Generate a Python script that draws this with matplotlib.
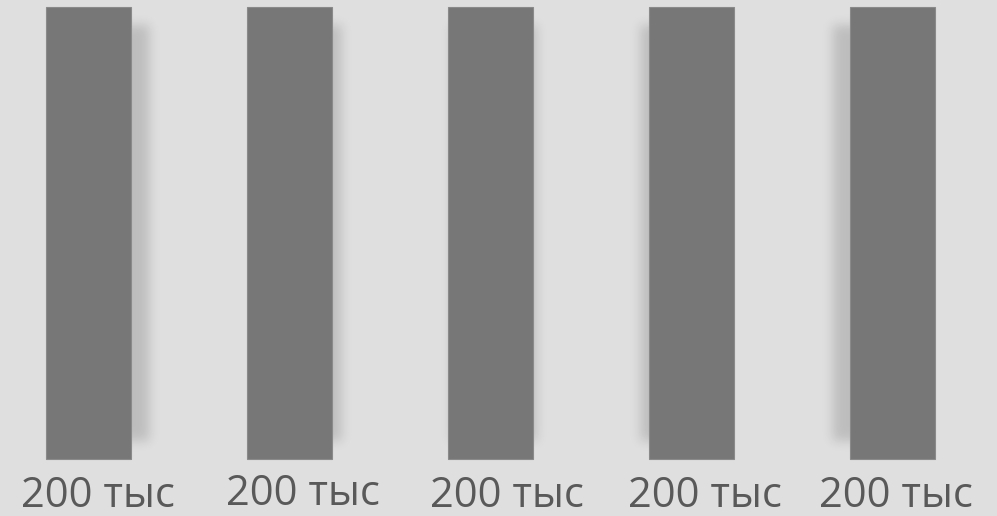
import matplotlib
matplotlib.use("Agg")
import matplotlib.pyplot as plt
import numpy as np

# data
values = [200, 200, 200, 200, 200]
labels = [f"{v} тыс" for v in values]

# per-bar shadow shift (px) and label nudge (px) to mimic the slide look
shadow_shift = [18, 9, 3, -9, -18]
label_dx = [9, 13, 16, 13, 3]
label_dy = [-48, -46, -48, -48, -48]

W, H, DPI = 997, 516, 100
BG = "#dfdfdf"
BAR = "#777777"

fig = plt.figure(figsize=(W / DPI, H / DPI), dpi=DPI, facecolor=BG)
ax = fig.add_axes([0, 0, 1, 1])
ax.set_facecolor(BG)
ax.set_xlim(-0.440, 4.520)
ax.set_ylim(-25.2, 203.1)
ax.axis("off")

x = np.arange(len(values))
bar_w = 85 / 201
bars = ax.bar(x, values, width=bar_w, color=BAR, edgecolor="#8a8a8a",
              linewidth=0.8, zorder=3)

# soft drop shadows, built in pixel space from the bar geometry
fig.canvas.draw()
mask = np.zeros((H, W))
for b, dx in zip(bars, shadow_shift):
    (x0, y0), (x1, y1) = ax.transData.transform(
        [(b.get_x(), 0), (b.get_x() + b.get_width(), b.get_height())])
    c0, c1 = int(round(x0 + dx)), int(round(x1 + dx))
    r_top = int(round(H - y1)) + 18
    r_bot = int(round(H - y0)) - 18
    mask[r_top:r_bot, max(c0, 0):min(c1, W)] = 1.0

sig = 5.5
k = np.arange(-int(3 * sig), int(3 * sig) + 1)
kern = np.exp(-k ** 2 / (2 * sig ** 2))
kern /= kern.sum()
mask = np.apply_along_axis(lambda r: np.convolve(r, kern, mode="same"), 1, mask)
mask = np.apply_along_axis(lambda c: np.convolve(c, kern, mode="same"), 0, mask)

rgba = np.zeros((H, W, 4))
rgba[..., 3] = mask * 0.15
ax.imshow(rgba, extent=(*ax.get_xlim(), *ax.get_ylim()), aspect="auto",
          zorder=2, interpolation="bilinear")

for xi, lab, dx, dy in zip(x, labels, label_dx, label_dy):
    ax.annotate(lab, (xi, 0), xytext=(dx, dy), textcoords="offset pixels",
                ha="center", va="baseline", fontsize=30, color="#595959",
                family=["Open Sans", "DejaVu Sans"], zorder=4)

fig.savefig("out.png", dpi=DPI, facecolor=BG)
